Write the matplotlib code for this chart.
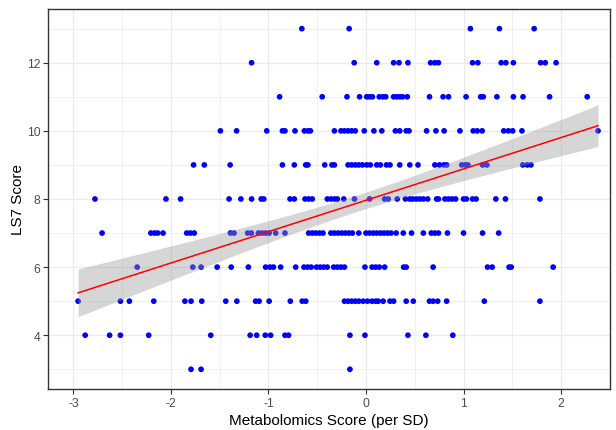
import matplotlib
matplotlib.use("Agg")
import matplotlib.pyplot as plt
import numpy as np

plt.rcParams['font.family'] = ['Liberation Sans', 'DejaVu Sans']
plt.rcParams['axes.unicode_minus'] = False

# x positions of the points at each LS7 score level
x_13 = [-0.658, -0.173, 1.07, 1.368, 1.724]
x_12 = [-1.173, -0.121, 0.110, 0.283, 0.338, 0.430, 0.662, 0.706, 0.743, 1.092,
        1.147, 1.386, 1.434, 1.511, 1.790, 1.838, 1.949]
x_11 = [-0.886, -0.449, -0.195, -0.066, 0.007, 0.037, 0.066, 0.136, 0.173, 0.202,
        0.283, 0.313, 0.346, 0.375, 0.423, 0.651, 0.790, 0.846, 1.026, 1.176,
        1.202, 1.342, 1.511, 1.610, 1.882, 2.268]
x_10 = [-1.493, -1.327, -1.018, -0.857, -0.831, -0.728, -0.632, -0.596, -0.570,
        -0.324, -0.257, -0.221, -0.184, -0.147, -0.110, -0.018, 0.081, 0.162,
        0.301, 0.346, 0.412, 0.441, 0.621, 0.717, 0.801, 0.963, 1.099, 1.140,
        1.191, 1.412, 1.460, 1.504, 1.599, 2.379]
x_9 = [-1.768, -1.658, -1.393, -0.857, -0.735, -0.618, -0.596, -0.423, -0.349,
       -0.324, -0.184, -0.147, -0.110, -0.074, -0.037, 0.007, 0.044, 0.110, 0.147,
       0.210, 0.246, 0.346, 0.449, 0.533, 0.706, 0.754, 0.798, 0.827, 0.982,
       1.018, 1.044, 1.195, 1.239, 1.607, 1.654, 1.691]
x_8 = [-2.779, -2.051, -1.901, -1.404, -1.283, -1.173, -1.074, -1.048, -0.779,
       -0.735, -0.625, -0.588, -0.551, -0.397, -0.360, -0.324, -0.294, -0.228,
       -0.118, 0.037, 0.191, 0.228, 0.320, 0.404, 0.449, 0.478, 0.515, 0.551,
       0.588, 0.632, 0.724, 0.743, 0.809, 0.846, 0.882, 0.919, 1.000, 1.029,
       1.092, 1.129, 1.331, 1.430, 1.783]
x_7 = [-2.706, -2.206, -2.169, -2.136, -2.081, -1.838, -1.801, -1.761, -1.390,
       -1.353, -1.213, -1.176, -1.103, -1.066, -1.029, -0.993, -0.926, -0.831,
       -0.588, -0.551, -0.515, -0.478, -0.441, -0.360, -0.324, -0.287, -0.250,
       -0.213, -0.176, -0.140, -0.074, 0.0, 0.037, 0.074, 0.110, 0.147, 0.184,
       0.221, 0.257, 0.309, 0.382, 0.467, 0.588, 0.669, 0.706, 0.743, 0.835,
       1.000, 1.195, 1.360]
x_6 = [-2.346, -1.776, -1.691, -1.526, -1.382, -1.206, -1.029, -0.985, -0.949,
       -0.875, -0.721, -0.636, -0.599, -0.562, -0.507, -0.471, -0.434, -0.397,
       -0.331, -0.294, -0.257, -0.221, -0.011, 0.062, 0.099, 0.136, 0.191, 0.386,
       0.412, 0.688, 1.246, 1.294, 1.467, 1.489, 1.919]
x_5 = [-2.952, -2.518, -2.426, -2.176, -1.857, -1.794, -1.684, -1.438, -1.324,
       -1.132, -1.096, -0.993, -0.776, -0.654, -0.618, -0.221, -0.184, -0.147,
       -0.110, -0.074, -0.029, 0.015, 0.062, 0.099, 0.125, 0.176, 0.246, 0.283,
       0.412, 0.485, 0.651, 0.688, 0.735, 0.827, 1.213, 1.783]
x_4 = [-2.879, -2.629, -2.518, -2.228, -1.592, -1.188, -1.121, -1.033, -0.978,
       -0.831, -0.794, -0.165, -0.011, 0.430, 0.614, 0.890]
x_3 = [-1.794, -1.691, -0.165]

levels = [13, 12, 11, 10, 9, 8, 7, 6, 5, 4, 3]
groups = [x_13, x_12, x_11, x_10, x_9, x_8, x_7, x_6, x_5, x_4, x_3]

x = np.concatenate([np.array(g) for g in groups])
y = np.concatenate([np.full(len(g), lv, dtype=float) for g, lv in zip(groups, levels)])

# linear fit with 95% confidence band (like geom_smooth(method="lm"))
b1, b0 = np.polyfit(x, y, 1)
n = len(x)
resid = y - (b0 + b1 * x)
s = np.sqrt(np.sum(resid ** 2) / (n - 2))
sxx = np.sum((x - x.mean()) ** 2)
xs = np.linspace(x.min(), x.max(), 100)
ys = b0 + b1 * xs
se = s * np.sqrt(1.0 / n + (xs - x.mean()) ** 2 / sxx)
t = 1.968

fig = plt.figure(figsize=(6.16, 4.31), dpi=100)
ax = fig.add_axes([0.078, 0.095, 0.912, 0.882])

ax.scatter(x, y, s=17, color='#0000FF', edgecolors='none', zorder=3)
ax.fill_between(xs, ys - t * se, ys + t * se, color='#999999', alpha=0.4,
                linewidth=0, zorder=4)
ax.plot(xs, ys, color='#FF0000', linewidth=1.1, zorder=5)

ax.set_xlim(-3.26, 2.49)
ax.set_ylim(2.42, 13.58)
ax.set_xticks([-3, -2, -1, 0, 1, 2])
ax.set_yticks([4, 6, 8, 10, 12])
ax.set_xticks(np.arange(-2.5, 2.6, 1.0), minor=True)
ax.set_yticks([3, 5, 7, 9, 11, 13], minor=True)

ax.grid(True, which='major', color='#EBEBEB', linewidth=0.9, zorder=0)
ax.grid(True, which='minor', color='#EBEBEB', linewidth=0.5, zorder=0)
ax.set_axisbelow(True)

for sp in ax.spines.values():
    sp.set_color('#333333')
    sp.set_linewidth(1.0)

ax.tick_params(which='major', length=3.5, width=0.8, color='#333333',
               labelsize=8.8, labelcolor='#4D4D4D', pad=2)
ax.tick_params(which='minor', length=0)

ax.set_xlabel('Metabolomics Score (per SD)', fontsize=11, color='#000000', labelpad=3)
ax.set_ylabel('LS7 Score', fontsize=11, color='#000000', labelpad=1)

fig.savefig('out.png', dpi=100)
